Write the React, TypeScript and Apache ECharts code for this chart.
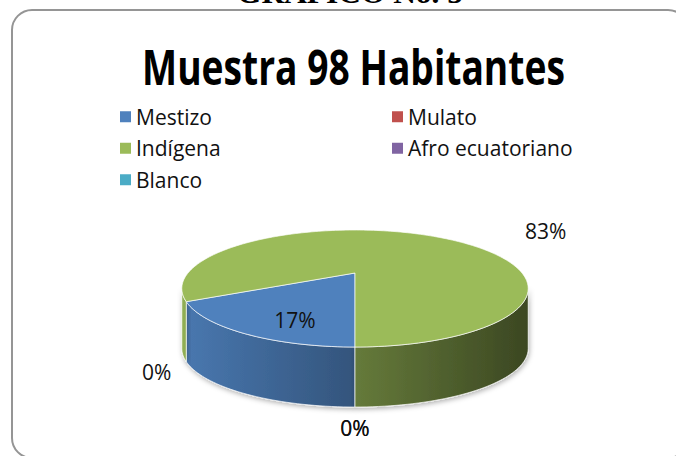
import React, { useEffect, useRef } from "react";
import * as echarts from "echarts";

// ---- data ----
const headerText = "GRAFICO No. 5";
const titleText = "Muestra 98 Habitantes";
const categories = ["Mestizo", "Mulato", "Indígena", "Afro ecuatoriano", "Blanco"];
const counts = [17, 0, 81, 0, 0];
const colors = ["#4F81BD", "#C0504D", "#9BBB59", "#8064A2", "#4BACC6"];

// ---- layout (3D perspective pie) ----
const CX = 355;
const CY = 273;
const RX = 167;
const RY = 54.4;
const K = 0.265;
const DEPTH = 60;
const START = 180;
const VIS0 = (Math.acos(-K) * 180) / Math.PI;
const VIS1 = 360 - VIS0;
const BIG_LABEL_ANGLE = 56;
const BIG_LABEL_R = 1.73;

function proj(deg: number, r = 1): [number, number] {
  const t = (deg * Math.PI) / 180;
  const u = Math.sin(t);
  const v = Math.cos(t);
  const f = 1 / (1 + K * v * r);
  return [CX + RX * u * r * f, CY - RY * v * r * f];
}

function arc(a0: number, a1: number, dy = 0): number[][] {
  const n = Math.max(2, Math.ceil(Math.abs(a1 - a0) / 1.5));
  const pts: number[][] = [];
  for (let i = 0; i <= n; i++) {
    const a = a0 + ((a1 - a0) * i) / n;
    const p = proj(a);
    pts.push([p[0], p[1] + dy]);
  }
  return pts;
}

function sideRanges(a0: number, a1: number): number[][] {
  const out: number[][] = [];
  for (let n = -1; n <= 2; n++) {
    const s = Math.max(a0, VIS0 + 360 * n);
    const e = Math.min(a1, VIS1 + 360 * n);
    if (e > s) out.push([s, e]);
  }
  return out;
}

function shade(hex: string, f: number): string {
  const n = parseInt(hex.slice(1), 16);
  const r = Math.round(((n >> 16) & 255) * f);
  const g = Math.round(((n >> 8) & 255) * f);
  const b = Math.round((n & 255) * f);
  return `rgb(${r},${g},${b})`;
}

function measure(text: string, font: string): number {
  const ctx = document.createElement("canvas").getContext("2d");
  if (!ctx) return 1;
  ctx.font = font;
  return ctx.measureText(text).width;
}

const total = counts.reduce((a, b) => a + b, 0);

function makeRender(idx: number) {
  return (_params: any, _api: any) => {
    const before = counts.slice(0, idx).reduce((a, b) => a + b, 0);
    const a0 = START + (before * 360) / total;
    const a1 = a0 + (counts[idx] * 360) / total;
    const share = counts[idx] / total;
    const color = colors[idx];
    const children: any[] = [];
    const xl = proj(VIS1)[0];
    const xr = proj(VIS0)[0];

    if (counts[idx] > 0) {
      for (const [s, e] of sideRanges(a0, a1)) {
        const pts = [...arc(s, e, 0), ...arc(e, s, DEPTH)];
        children.push({
          type: "polygon",
          z2: 1,
          shape: { points: pts },
          style: {
            fill: new echarts.graphic.LinearGradient(
              xl,
              0,
              xr,
              0,
              [
                { offset: 0, color: shade(color, 0.93) },
                { offset: 1, color: shade(color, 0.38) },
              ],
              true
            ),
            stroke: "rgba(255,255,255,0.85)",
            lineWidth: 0.8,
            shadowColor: "rgba(0,0,0,0.3)",
            shadowBlur: 5,
            shadowOffsetX: 1,
            shadowOffsetY: 2,
          },
        });
      }
      children.push({
        type: "polygon",
        z2: 2,
        shape: { points: [[CX, CY], ...arc(a0, a1, 0)] },
        style: { fill: color, stroke: "rgba(255,255,255,0.85)", lineWidth: 0.8 },
      });
    }

    const mid = (a0 + a1) / 2;
    let lp: [number, number];
    if (counts[idx] === 0) {
      const p = proj(mid, 1.15);
      lp = [p[0], p[1] + DEPTH + 5];
    } else if (share < 0.5) {
      const p = proj(mid, 0.6);
      lp = [p[0], p[1] + DEPTH * 0.25];
    } else {
      lp = proj(BIG_LABEL_ANGLE, BIG_LABEL_R);
    }
    children.push({
      type: "text",
      z2: 3,
      x: lp[0],
      y: lp[1],
      style: {
        text: Math.round(share * 100) + "%",
        fill: "#111",
        fontSize: 21,
        fontFamily: "Open Sans",
        align: "center",
        verticalAlign: "middle",
      },
    });
    return { type: "group", children };
  };
}

export default function App() {
  const ref = useRef<HTMLDivElement>(null);
  useEffect(() => {
    if (!ref.current) return;
    const chart = echarts.init(ref.current, undefined, { renderer: "svg" });
    const titleFont = 'bold 48px "Open Sans"';
    const titleScale = 423 / measure(titleText, titleFont);
    const headerFont = 'bold 30px "Liberation Serif"';
    const headerScale = 226 / measure(headerText, headerFont);

    chart.setOption({
      animation: false,
      backgroundColor: "#fff",
      legend: {
        left: 120,
        top: 106,
        padding: 0,
        width: 560,
        orient: "horizontal",
        icon: "rect",
        itemWidth: 11,
        itemHeight: 11,
        itemGap: 10,
        selectedMode: false,
        data: categories,
        textStyle: {
          fontFamily: "Open Sans",
          fontSize: 21,
          color: "#111",
          width: 246,
          lineHeight: 21.5,
          overflow: "none",
        },
      },
      graphic: [
        {
          type: "rect",
          shape: { x: 12, y: 10, width: 676, height: 448, r: 20 },
          style: { fill: "none", stroke: "#959595", lineWidth: 2 },
        },
        {
          type: "text",
          x: 350,
          y: -7,
          scaleX: headerScale,
          style: {
            text: headerText,
            font: headerFont,
            fill: "#000",
            align: "center",
            verticalAlign: "middle",
          },
        },
        {
          type: "text",
          x: 353.5,
          y: 66.5,
          scaleX: titleScale,
          style: {
            text: titleText,
            font: titleFont,
            fill: "#000",
            align: "center",
            verticalAlign: "middle",
          },
        },
      ],
      series: categories.map((name, i) => ({
        type: "custom",
        name,
        coordinateSystem: "none",
        itemStyle: { color: colors[i] },
        data: [counts[i]],
        renderItem: makeRender(i),
      })),
    });
    return () => chart.dispose();
  }, []);
  return (
    <div
      ref={ref}
      style={{ position: "fixed", left: 0, top: 0, width: 676, height: 456 }}
    />
  );
}
